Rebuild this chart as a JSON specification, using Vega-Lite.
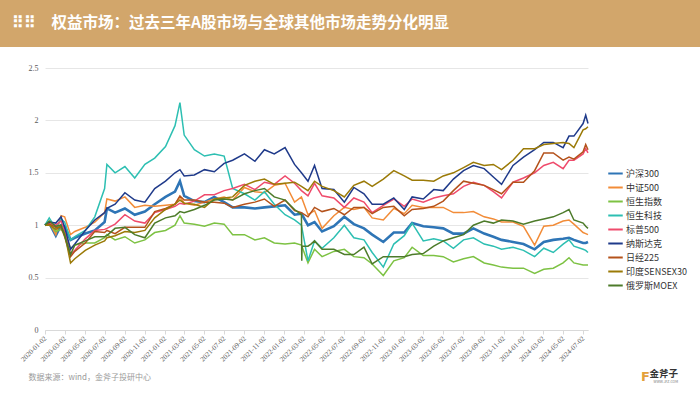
{
  "$schema": "https://vega.github.io/schema/vega-lite/v6.json",
  "background": "white",
  "padding": 0,
  "spacing": 0,
  "config": {"view": {"stroke": null}, "font": "Noto Sans CJK SC"},
  "vconcat": [
    {
      "width": 700,
      "height": 47,
      "view": {"fill": "#D2A66B", "stroke": null},
      "title": {"text": "⠿⠿\u2003权益市场：过去三年A股市场与全球其他市场走势分化明显", "anchor": "start", "frame": "group", "orient": "top", "offset": -31, "dx": 12, "color": "#ffffff", "fontSize": 15.5, "fontWeight": "bold", "font": "Noto Sans CJK SC"},
      "data": {"values": [{"t": ""}]},
      "mark": {"type": "text"},
      "encoding": {"text": {"field": "t"}}
    },
    {
      "width": 700,
      "height": 283,
      "title": {"text": "金斧子", "subtitle": "WWW.JFZ.COM", "orient": "bottom", "anchor": "end", "frame": "group", "offset": -14, "dx": -22, "color": "#333333", "fontSize": 9.5, "fontWeight": "bold", "font": "Noto Sans CJK SC", "subtitleFontSize": 3.5, "subtitleColor": "#777777", "subtitlePadding": 1},
      "data": {"values": [
        {"d":"2020-01-02","沪深300":1,"中证500":1,"恒生指数":1,"恒生科技":1,"标普500":1,"纳斯达克":1,"日经225":1,"印度SENSEX30":1,"俄罗斯MOEX":1},
        {"d":"2020-01-15","沪深300":1.02,"中证500":1.03,"恒生指数":1.02,"恒生科技":1.07,"标普500":1.02,"纳斯达克":1.03,"日经225":1.01,"印度SENSEX30":1.0,"俄罗斯MOEX":1.04},
        {"d":"2020-02-04","沪深300":0.9,"中证500":0.91,"恒生指数":0.94,"恒生科技":0.97,"标普500":1.0,"纳斯达克":1.02,"日经225":0.98,"印度SENSEX30":0.96,"俄罗斯MOEX":0.99},
        {"d":"2020-02-20","沪深300":1.0,"中证500":1.09,"恒生指数":0.96,"恒生科技":1.06,"标普500":1.04,"纳斯达克":1.08,"日经225":0.98,"印度SENSEX30":0.99,"俄罗斯MOEX":1.0},
        {"d":"2020-03-02","沪深300":0.99,"中证500":1.08,"恒生指数":0.92,"恒生科技":1.03,"标普500":0.94,"纳斯达克":0.98,"日经225":0.89,"印度SENSEX30":0.92,"俄罗斯MOEX":0.9},
        {"d":"2020-03-20","沪深300":0.86,"中证500":0.91,"恒生指数":0.78,"恒生科技":0.86,"标普500":0.72,"纳斯达克":0.77,"日经225":0.7,"印度SENSEX30":0.64,"俄罗斯MOEX":0.72},
        {"d":"2020-04-02","沪深300":0.88,"中证500":0.94,"恒生指数":0.81,"恒生科技":0.89,"标普500":0.76,"纳斯达克":0.82,"日经225":0.75,"印度SENSEX30":0.68,"俄罗斯MOEX":0.81},
        {"d":"2020-05-04","沪深300":0.92,"中证500":0.98,"恒生指数":0.83,"恒生科技":0.95,"标普500":0.87,"纳斯达克":0.95,"日经225":0.83,"印度SENSEX30":0.76,"俄罗斯MOEX":0.85},
        {"d":"2020-06-02","沪深300":0.95,"中证500":1.03,"恒生指数":0.83,"恒生科技":1.08,"标普500":0.95,"纳斯达克":1.05,"日经225":0.94,"印度SENSEX30":0.81,"俄罗斯MOEX":0.89},
        {"d":"2020-07-02","沪深300":1.03,"中证500":1.12,"恒生指数":0.88,"恒生科技":1.35,"标普500":0.96,"纳斯达克":1.12,"日经225":0.93,"印度SENSEX30":0.85,"俄罗斯MOEX":0.89},
        {"d":"2020-07-09","沪深300":1.16,"中证500":1.25,"恒生指数":0.91,"恒生科技":1.58,"标普500":0.97,"纳斯达克":1.16,"日经225":0.95,"印度SENSEX30":0.88,"俄罗斯MOEX":0.9},
        {"d":"2020-08-03","沪深300":1.12,"中证500":1.23,"恒生指数":0.86,"恒生科技":1.5,"标普500":1.01,"纳斯达克":1.2,"日经225":0.92,"印度SENSEX30":0.9,"俄罗斯MOEX":0.97},
        {"d":"2020-09-02","沪深300":1.16,"中证500":1.27,"恒生指数":0.89,"恒生科技":1.56,"标普500":1.1,"纳斯达克":1.31,"日经225":0.98,"印度SENSEX30":0.94,"俄罗斯MOEX":0.98},
        {"d":"2020-10-02","沪深300":1.1,"中证500":1.17,"恒生指数":0.83,"恒生科技":1.45,"标普500":1.04,"纳斯达克":1.24,"日经225":0.98,"印度SENSEX30":0.93,"俄罗斯MOEX":0.91},
        {"d":"2020-11-02","沪深300":1.13,"中证500":1.19,"恒生指数":0.86,"恒生科技":1.58,"标普500":1.02,"纳斯达克":1.22,"日经225":0.98,"印度SENSEX30":0.95,"俄罗斯MOEX":0.88},
        {"d":"2020-12-02","沪深300":1.2,"中证500":1.18,"恒生指数":0.93,"恒生科技":1.64,"标普500":1.12,"纳斯达克":1.35,"日经225":1.13,"印度SENSEX30":1.07,"俄罗斯MOEX":1.02},
        {"d":"2021-01-04","沪深300":1.27,"中证500":1.19,"恒生指数":0.95,"恒生科技":1.75,"标普500":1.15,"纳斯达克":1.42,"日经225":1.16,"印度SENSEX30":1.15,"俄罗斯MOEX":1.07},
        {"d":"2021-02-02","沪深300":1.32,"中证500":1.2,"恒生指数":1.0,"恒生科技":1.95,"标普500":1.18,"纳斯达克":1.5,"日经225":1.2,"印度SENSEX30":1.2,"俄罗斯MOEX":1.09},
        {"d":"2021-02-17","沪深300":1.42,"中证500":1.27,"恒生指数":1.09,"恒生科技":2.17,"标普500":1.21,"纳斯达克":1.53,"日经225":1.28,"印度SENSEX30":1.24,"俄罗斯MOEX":1.13},
        {"d":"2021-03-02","沪深300":1.28,"中证500":1.21,"恒生指数":1.02,"恒生科技":1.86,"标普500":1.2,"纳斯达克":1.47,"日经225":1.24,"印度SENSEX30":1.21,"俄罗斯MOEX":1.12},
        {"d":"2021-04-02","沪深300":1.23,"中证500":1.19,"恒生指数":1.01,"恒生科技":1.72,"标普500":1.23,"纳斯达克":1.48,"日经225":1.24,"印度SENSEX30":1.2,"俄罗斯MOEX":1.15},
        {"d":"2021-05-03","沪深300":1.22,"中证500":1.22,"恒生指数":0.99,"恒生科技":1.66,"标普500":1.29,"纳斯达克":1.53,"日经225":1.22,"印度SENSEX30":1.17,"俄罗斯MOEX":1.19},
        {"d":"2021-06-02","沪深300":1.27,"中证500":1.25,"恒生指数":1.02,"恒生科技":1.68,"标普500":1.29,"纳斯达克":1.51,"日经225":1.22,"印度SENSEX30":1.25,"俄罗斯MOEX":1.24},
        {"d":"2021-07-02","沪深300":1.22,"中证500":1.27,"恒生指数":1.01,"恒生科技":1.66,"标普500":1.33,"纳斯达克":1.59,"日经225":1.21,"印度SENSEX30":1.26,"俄罗斯MOEX":1.25},
        {"d":"2021-07-28","沪深300":1.17,"中证500":1.24,"恒生指数":0.91,"恒生科技":1.35,"标普500":1.35,"纳斯达克":1.62,"日经225":1.17,"印度SENSEX30":1.27,"俄罗斯MOEX":1.24},
        {"d":"2021-09-02","沪深300":1.17,"中证500":1.36,"恒生指数":0.91,"恒生科技":1.3,"标普500":1.39,"纳斯达克":1.68,"日经225":1.2,"印度SENSEX30":1.38,"俄罗斯MOEX":1.3},
        {"d":"2021-10-04","沪深300":1.16,"中证500":1.32,"恒生指数":0.86,"恒生科技":1.24,"标普500":1.34,"纳斯达克":1.61,"日经225":1.22,"印度SENSEX30":1.42,"俄罗斯MOEX":1.33},
        {"d":"2021-11-02","沪深300":1.17,"中证500":1.31,"恒生指数":0.88,"恒生科技":1.32,"标普500":1.41,"纳斯达克":1.72,"日经225":1.25,"印度SENSEX30":1.44,"俄罗斯MOEX":1.35},
        {"d":"2021-12-02","沪深300":1.18,"中证500":1.38,"恒生指数":0.83,"恒生科技":1.2,"标普500":1.39,"纳斯达克":1.68,"日经225":1.18,"印度SENSEX30":1.39,"俄罗斯MOEX":1.27},
        {"d":"2022-01-04","沪深300":1.19,"中证500":1.4,"恒生指数":0.82,"恒生科技":1.1,"标普500":1.47,"纳斯达克":1.74,"日经225":1.24,"印度SENSEX30":1.4,"俄罗斯MOEX":1.24},
        {"d":"2022-02-02","沪深300":1.1,"中证500":1.22,"恒生指数":0.83,"恒生科技":1.05,"标普500":1.4,"纳斯达克":1.58,"日经225":1.14,"印度SENSEX30":1.41,"俄罗斯MOEX":1.15},
        {"d":"2022-02-23","沪深300":1.11,"中证500":1.27,"恒生指数":0.81,"恒生科技":1.0,"标普500":1.33,"纳斯达克":1.5,"日经225":1.12,"印度SENSEX30":1.37,"俄罗斯MOEX":1.1},
        {"d":"2022-02-24","俄罗斯MOEX":0.66},
        {"d":"2022-02-25","俄罗斯MOEX":0.8},
        {"d":"2022-03-15","沪深300":1.0,"中证500":1.1,"恒生指数":0.64,"恒生科技":0.66,"标普500":1.28,"纳斯达克":1.42,"日经225":1.08,"印度SENSEX30":1.33,"俄罗斯MOEX":0.8},
        {"d":"2022-03-24","俄罗斯MOEX":0.82},
        {"d":"2022-04-04","沪深300":1.03,"中证500":1.14,"恒生指数":0.77,"恒生科技":0.85,"标普500":1.4,"纳斯达克":1.57,"日经225":1.17,"印度SENSEX30":1.42,"俄罗斯MOEX":0.85},
        {"d":"2022-04-27","沪深300":0.94,"中证500":0.97,"恒生指数":0.7,"恒生科技":0.78,"标普500":1.28,"纳斯达克":1.35,"日经225":1.13,"印度SENSEX30":1.37,"俄罗斯MOEX":0.77},
        {"d":"2022-06-02","沪深300":0.99,"中证500":1.09,"恒生指数":0.75,"恒生科技":0.88,"标普500":1.26,"纳斯达克":1.34,"日经225":1.16,"印度SENSEX30":1.33,"俄罗斯MOEX":0.77},
        {"d":"2022-07-04","沪深300":1.08,"中证500":1.17,"恒生指数":0.77,"恒生科技":1.0,"标普500":1.17,"纳斯达克":1.22,"日经225":1.1,"印度SENSEX30":1.27,"俄罗斯MOEX":0.72},
        {"d":"2022-08-02","沪深300":1.01,"中证500":1.15,"恒生指数":0.7,"恒生科技":0.88,"标普500":1.26,"纳斯达克":1.36,"日经225":1.17,"印度SENSEX30":1.38,"俄罗斯MOEX":0.72},
        {"d":"2022-09-02","沪深300":0.97,"中证500":1.17,"恒生指数":0.69,"恒生科技":0.86,"标普500":1.22,"纳斯达克":1.3,"日经225":1.17,"印度SENSEX30":1.42,"俄罗斯MOEX":0.79},
        {"d":"2022-09-27","沪深300":0.91,"中证500":1.07,"恒生指数":0.63,"恒生科技":0.74,"标普500":1.12,"纳斯达克":1.2,"日经225":1.11,"印度SENSEX30":1.37,"俄罗斯MOEX":0.63},
        {"d":"2022-10-31","沪深300":0.84,"中证500":1.05,"恒生指数":0.52,"恒生科技":0.6,"标普500":1.19,"纳斯达克":1.2,"日经225":1.17,"印度SENSEX30":1.44,"俄罗斯MOEX":0.7},
        {"d":"2022-12-02","沪深300":0.93,"中证500":1.16,"恒生指数":0.66,"恒生科技":0.82,"标普500":1.25,"纳斯达克":1.26,"日经225":1.18,"印度SENSEX30":1.52,"俄罗斯MOEX":0.7},
        {"d":"2023-01-03","沪深300":0.93,"中证500":1.11,"恒生指数":0.69,"恒生科技":0.9,"标普500":1.18,"纳斯达克":1.15,"日经225":1.09,"印度SENSEX30":1.47,"俄罗斯MOEX":0.7},
        {"d":"2023-01-27","沪深300":1.02,"中证500":1.19,"恒生指数":0.79,"恒生科技":1.02,"标普500":1.25,"纳斯达克":1.27,"日经225":1.15,"印度SENSEX30":1.43,"俄罗斯MOEX":0.72},
        {"d":"2023-03-02","沪深300":0.99,"中证500":1.17,"恒生指数":0.71,"恒生科技":0.85,"标普500":1.22,"纳斯达克":1.25,"日经225":1.16,"印度SENSEX30":1.43,"俄罗斯MOEX":0.73},
        {"d":"2023-04-03","沪深300":0.98,"中证500":1.17,"恒生指数":0.71,"恒生科技":0.87,"标普500":1.26,"纳斯达克":1.34,"日经225":1.18,"印度SENSEX30":1.42,"俄罗斯MOEX":0.8},
        {"d":"2023-05-02","沪深300":0.97,"中证500":1.17,"恒生指数":0.7,"恒生科技":0.85,"标普500":1.28,"纳斯达克":1.33,"日经225":1.23,"印度SENSEX30":1.47,"俄罗斯MOEX":0.85},
        {"d":"2023-06-02","沪深300":0.92,"中证500":1.12,"恒生指数":0.65,"恒生科技":0.78,"标普500":1.3,"纳斯达克":1.44,"日经225":1.33,"印度SENSEX30":1.5,"俄罗斯MOEX":0.88},
        {"d":"2023-07-03","沪深300":0.92,"中证500":1.12,"恒生指数":0.68,"恒生科技":0.86,"标普500":1.37,"纳斯达克":1.52,"日经225":1.42,"印度SENSEX30":1.55,"俄罗斯MOEX":0.91},
        {"d":"2023-08-02","沪深300":0.97,"中证500":1.13,"恒生指数":0.7,"恒生科技":0.88,"标普500":1.41,"纳斯达克":1.57,"日经225":1.4,"印度SENSEX30":1.6,"俄罗斯MOEX":1.0},
        {"d":"2023-09-04","沪深300":0.92,"中证500":1.08,"恒生指数":0.64,"恒生科技":0.82,"标普500":1.38,"纳斯达克":1.54,"日经225":1.38,"印度SENSEX30":1.57,"俄罗斯MOEX":1.04},
        {"d":"2023-10-02","沪深300":0.89,"中证500":1.06,"恒生指数":0.62,"恒生科技":0.8,"标普500":1.32,"纳斯达克":1.46,"日经225":1.34,"印度SENSEX30":1.58,"俄罗斯MOEX":1.02},
        {"d":"2023-10-27","沪深300":0.86,"中证500":1.03,"恒生指数":0.6,"恒生科技":0.77,"标普500":1.26,"纳斯达克":1.39,"日经225":1.3,"印度SENSEX30":1.53,"俄罗斯MOEX":1.05},
        {"d":"2023-12-01","沪深300":0.84,"中证500":1.03,"恒生指数":0.59,"恒生科技":0.79,"标普500":1.41,"纳斯达克":1.57,"日经225":1.41,"印度SENSEX30":1.62,"俄罗斯MOEX":1.04},
        {"d":"2024-01-02","沪深300":0.82,"中证500":0.99,"恒生指数":0.59,"恒生科技":0.76,"标普500":1.45,"纳斯达克":1.65,"日经225":1.41,"印度SENSEX30":1.73,"俄罗斯MOEX":1.01},
        {"d":"2024-02-05","沪深300":0.77,"中证500":0.81,"恒生指数":0.54,"恒生科技":0.7,"标普500":1.5,"纳斯达克":1.72,"日经225":1.52,"印度SENSEX30":1.73,"俄罗斯MOEX":1.04},
        {"d":"2024-03-04","沪深300":0.84,"中证500":0.99,"恒生指数":0.58,"恒生科技":0.78,"标普500":1.57,"纳斯达克":1.79,"日经225":1.69,"印度SENSEX30":1.77,"俄罗斯MOEX":1.06},
        {"d":"2024-04-02","沪深300":0.86,"中证500":1.0,"恒生指数":0.59,"恒生科技":0.74,"标普500":1.6,"纳斯达克":1.79,"日经225":1.69,"印度SENSEX30":1.78,"俄罗斯MOEX":1.08},
        {"d":"2024-05-02","沪深300":0.87,"中证500":1.04,"恒生指数":0.64,"恒生科技":0.82,"标普500":1.54,"纳斯达克":1.74,"日经225":1.62,"印度SENSEX30":1.79,"俄罗斯MOEX":1.12},
        {"d":"2024-05-20","沪深300":0.88,"中证500":1.05,"恒生指数":0.69,"恒生科技":0.86,"标普500":1.62,"纳斯达克":1.85,"日经225":1.65,"印度SENSEX30":1.78,"俄罗斯MOEX":1.15},
        {"d":"2024-06-04","沪深300":0.86,"中证500":1.01,"恒生指数":0.64,"恒生科技":0.8,"标普500":1.62,"纳斯达克":1.85,"日经225":1.63,"印度SENSEX30":1.74,"俄罗斯MOEX":1.05},
        {"d":"2024-07-02","沪深300":0.83,"中证500":0.93,"恒生指数":0.62,"恒生科技":0.77,"标普500":1.68,"纳斯达克":1.97,"日经225":1.7,"印度SENSEX30":1.91,"俄罗斯MOEX":1.02},
        {"d":"2024-07-10","沪深300":0.83,"中证500":0.92,"恒生指数":0.62,"恒生科技":0.76,"标普500":1.73,"纳斯达克":2.05,"日经225":1.77,"印度SENSEX30":1.92,"俄罗斯MOEX":0.99},
        {"d":"2024-07-17","沪深300":0.84,"中证500":0.91,"恒生指数":0.62,"恒生科技":0.74,"标普500":1.69,"纳斯达克":1.97,"日经225":1.72,"印度SENSEX30":1.94,"俄罗斯MOEX":0.97}
      ]},
      "transform": [
        {"fold": ["沪深300","中证500","恒生指数","恒生科技","标普500","纳斯达克","日经225","印度SENSEX30","俄罗斯MOEX"], "as": ["s", "v"]},
        {"filter": "isValid(datum.v)"}
      ],
      "mark": {"type": "line", "interpolate": "linear"},
      "encoding": {
        "x": {
          "field": "d", "type": "temporal",
          "scale": {"domain": [{"year": 2020, "month": 1, "date": 2}, {"year": 2024, "month": 7, "date": 17}], "range": [45, 588], "nice": false},
          "axis": {
            "title": "数据来源：wind，金斧子投研中心",
            "titleX": 28, "titleY": 47, "titleAnchor": "start", "titleAlign": "left", "titleBaseline": "middle",
            "titleFontSize": 8, "titleFontWeight": "normal", "titleColor": "#9a9a9a", "titleFont": "Noto Sans CJK SC",
            "values": [
              {"year":2020,"month":1,"date":2},{"year":2020,"month":3,"date":2},{"year":2020,"month":5,"date":2},{"year":2020,"month":7,"date":2},{"year":2020,"month":9,"date":2},{"year":2020,"month":11,"date":2},
              {"year":2021,"month":1,"date":2},{"year":2021,"month":3,"date":2},{"year":2021,"month":5,"date":2},{"year":2021,"month":7,"date":2},{"year":2021,"month":9,"date":2},{"year":2021,"month":11,"date":2},
              {"year":2022,"month":1,"date":2},{"year":2022,"month":3,"date":2},{"year":2022,"month":5,"date":2},{"year":2022,"month":7,"date":2},{"year":2022,"month":9,"date":2},{"year":2022,"month":11,"date":2},
              {"year":2023,"month":1,"date":2},{"year":2023,"month":3,"date":2},{"year":2023,"month":5,"date":2},{"year":2023,"month":7,"date":2},{"year":2023,"month":9,"date":2},{"year":2023,"month":11,"date":2},
              {"year":2024,"month":1,"date":2},{"year":2024,"month":3,"date":2},{"year":2024,"month":5,"date":2},{"year":2024,"month":7,"date":2}
            ],
            "format": "%Y-%m-%d",
            "labelAngle": -45, "labelAlign": "right", "labelBaseline": "middle",
            "labelFont": "Liberation Serif", "labelFontSize": 7, "labelColor": "#595959", "labelPadding": 3,
            "labelOverlap": false, "labelFlush": false,
            "domainColor": "#D9D9D9", "tickColor": "#D9D9D9", "tickSize": 4,
            "grid": false
          }
        },
        "y": {
          "field": "v", "type": "quantitative",
          "scale": {"domain": [0, 2.5], "range": [283, 21], "nice": false, "zero": false},
          "axis": {
            "offset": -44,
            "values": [0, 0.5, 1, 1.5, 2, 2.5],
            "format": "~g",
            "title": "F",
            "titleAngle": 0, "titleX": 601, "titleY": 329, "titleAlign": "center", "titleBaseline": "middle",
            "titleFontSize": 13, "titleFontWeight": "bold", "titleColor": "#E3A03A", "titleFont": "DejaVu Sans",
            "labelFont": "Liberation Serif", "labelFontSize": 8, "labelColor": "#595959", "labelPadding": 6,
            "domain": false, "ticks": false,
            "grid": true, "gridColor": "#E6E6E6", "gridWidth": 1
          }
        },
        "color": {
          "field": "s", "type": "nominal",
          "scale": {
            "domain": ["沪深300","中证500","恒生指数","恒生科技","标普500","纳斯达克","日经225","印度SENSEX30","俄罗斯MOEX"],
            "range": ["#2E75B6","#F28C38","#7DC243","#2DBFB2","#EF4B6C","#1F3A8A","#B4521B","#9B7A07","#4D7B2A"]
          },
          "legend": {
            "title": null, "orient": "none", "legendX": 607, "legendY": 165,
            "symbolType": "stroke", "symbolSize": 210, "symbolStrokeWidth": 2,
            "labelFont": "Noto Sans CJK SC", "labelFontSize": 9, "labelColor": "#333333", "labelOffset": 2,
            "rowPadding": 0
          }
        },
        "strokeWidth": {"condition": {"test": "datum.s === '沪深300'", "value": 2.6}, "value": 1.5}
      }
    }
  ]
}
